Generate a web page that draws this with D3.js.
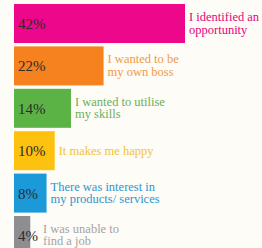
<!DOCTYPE html>
<html>
<head>
<meta charset="utf-8">
<script src="https://cdn.jsdelivr.net/npm/d3@7"></script>
<style>
  body { margin: 0; background: #fefcf7; }
  text { font-family: "Liberation Serif", serif; }
</style>
</head>
<body>
<div id="chart"></div>
<script>
const w = 262
const h = 248

// reasons and their share
const reasons = ["I identified an opportunity", "I wanted to be my own boss", "I wanted to utilise my skills",
                 "It makes me happy", "There was interest in my products/ services", "I was unable to find a job"]
const shares = [42, 22, 14, 10, 8, 4]
// label split over lines as in the picture
const labelLines = [
  ["I identified an", "opportunity"],
  ["I wanted to be", "my own boss"],
  ["I wanted to utilise", "my skills"],
  ["It makes me happy"],
  ["There was interest in", "my products/ services"],
  ["I was unable to", "find a job"]
]
const barColors = ["#ec078b", "#f5821f", "#5bb346", "#fdc210", "#1a9ad8", "#8e8e92"]
const textColors = ["#e5047f", "#f19a45", "#6aaf58", "#f4c32e", "#2b97cf", "#a3a3a5"]

const svg = d3.select("#chart")
              .append("svg")
                .attr("width", w)
                .attr("height", h)

const x = d3.scaleLinear()
            .domain([0, 42])
            .range([14, 185])

const y = d3.scaleBand()
            .domain(reasons)
            .range([4, 255])
            .paddingInner(0.08)
            .paddingOuter(0)

const rows = svg.selectAll("g.row")
                .data(reasons)
                .join("g")
                  .attr("class", "row")

rows.append("rect")
      .attr("x", x(0))
      .attr("y", d => y(d))
      .attr("width", (d, i) => x(shares[i]) - x(0))
      .attr("height", y.bandwidth())
      .attr("fill", (d, i) => barColors[i])

// percentage inside the bar
const pct = rows.append("text")
      .attr("x", x(0) + 4)
      .attr("y", d => y(d) + y.bandwidth() / 2 + 5.5)
      .attr("font-size", 15)
      .attr("fill", "#2e2a2a")
      .text((d, i) => shares[i] + "%")

// reason next to the bar (pushed past the percentage when the bar is too short)
rows.each(function(d, i) {
  const lines = labelLines[i]
  const cy = y(d) + y.bandwidth() / 2
  const top = lines.length == 1 ? cy + 4 : cy - 2.5
  const pctEnd = x(0) + 4 + pct.nodes()[i].getComputedTextLength()
  const lx = Math.max(x(shares[i]) + 4, pctEnd + 5)
  d3.select(this).append("text")
      .attr("font-size", 12.5)
      .attr("fill", textColors[i])
    .selectAll("tspan")
    .data(lines)
    .join("tspan")
      .attr("x", lx)
      .attr("y", (l, j) => top + j * 12.5)
      .text(l => l)
})
</script>
</body>
</html>
